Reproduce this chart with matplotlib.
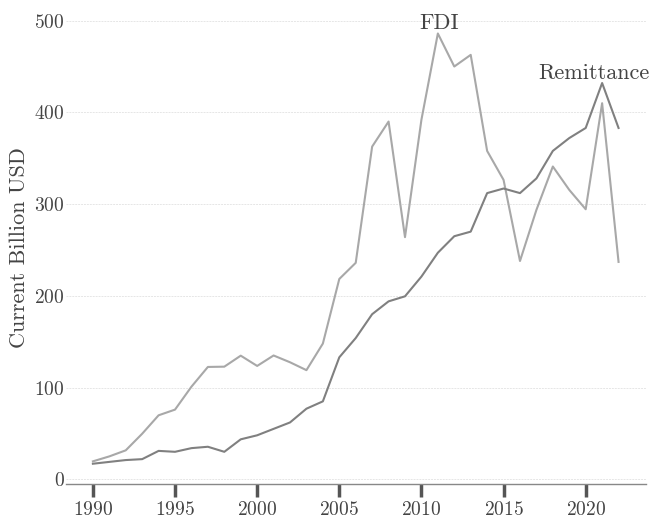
import matplotlib
matplotlib.use("Agg")
import matplotlib.pyplot as plt

years = list(range(1990, 2023))
remittance = [17, 19, 21, 22, 31, 30, 34, 35.5, 30, 43.6, 48, 55, 62, 77, 85,
              133, 154, 180, 194, 199.5, 221, 247, 265, 270, 312, 317, 312,
              328, 358, 372, 383, 432, 383]
fdi = [19.6, 25, 31.6, 49.7, 69.8, 76, 101, 122.5, 122.8, 134.8, 123.6, 135,
       127.6, 119, 148, 218.4, 236, 362.7, 390, 264, 392, 486, 450, 462.7,
       358, 326.4, 238, 293.7, 341, 315.5, 294.4, 410, 237]
xticks = [1990, 1995, 2000, 2005, 2010, 2015, 2020]
yticks = [0, 100, 200, 300, 400, 500]

plt.rcParams['font.family'] = 'serif'
plt.rcParams['font.serif'] = ['cmr10', 'DejaVu Serif']
plt.rcParams['mathtext.fontset'] = 'cm'
plt.rcParams['axes.formatter.use_mathtext'] = True

fig = plt.figure(figsize=(6.53, 5.19), dpi=100)
ax = fig.add_axes([0.101, 0.0669, 0.888, 0.911])

ax.plot(years, fdi, color='#a8a8a8', lw=1.5, zorder=3)
ax.plot(years, remittance, color='#808080', lw=1.5, zorder=3)

txtc = '#444444'
ax.text(2011.1, 487, 'FDI', ha='center', va='bottom', fontsize=16, color=txtc)
ax.text(2020.5, 432, 'Remittance', ha='center', va='bottom', fontsize=16, color=txtc)

ax.set_xlim(1988.36, 2023.66)
ax.set_ylim(-5.4, 510)
ax.set_xticks(xticks)
ax.set_yticks(yticks)
ax.set_ylabel('Current Billion USD', fontsize=16, color=txtc, labelpad=4)

ax.grid(axis='y', color='#e6e6e6', linestyle=(0, (2, 1)), lw=0.7, zorder=0)
ax.grid(axis='x', visible=False)
for s in ['top', 'right', 'left']:
    ax.spines[s].set_visible(False)
ax.spines['bottom'].set_color('#888888')
ax.spines['bottom'].set_linewidth(1.0)

ax.tick_params(axis='x', direction='out', length=9, width=2.5, color='#555555',
               labelsize=14, labelcolor=txtc, pad=3)
ax.tick_params(axis='y', length=0, labelsize=14, labelcolor=txtc, pad=1)

fig.savefig('out.png', dpi=100)
